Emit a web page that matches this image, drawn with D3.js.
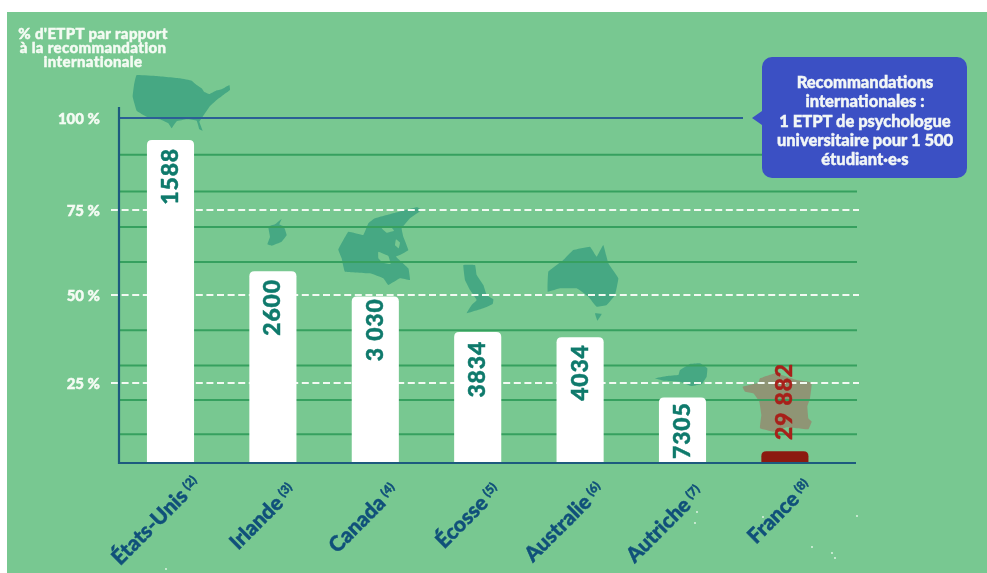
<!DOCTYPE html>
<html lang="fr"><head><meta charset="utf-8">
<script src="https://cdn.jsdelivr.net/npm/d3@7/dist/d3.min.js"></script>
<style>
html,body{margin:0;padding:0;background:#fff}
svg{display:block;filter:blur(.35px)}
text{font-family:Lato,"Open Sans",sans-serif;font-weight:900}
</style></head><body><div id="chart"></div>
<script>
// ---- data ----
const countries = ["États-Unis","Irlande","Canada","Écosse","Australie","Autriche","France"];
const notes = ["(2)","(3)","(4)","(5)","(6)","(7)","(8)"];
const percents = [94,57,49.6,39.5,38,20.5,3.7];
const valueLabels = ["1588","2600","3 030","3834","4034","7305","29 882"];
const dashedLevels = [25,50,75];
const gridLevels = [9,19.7,30,40,59.7,70,80,90];
const yTickLabels = ["25 %","50 %","75 %","100 %"];
const yTickValues = [25,50,75,100];
const titleLines = ["% d'ETPT par rapport","à la recommandation","internationale"];
const calloutLines = ["Recommandations","internationales :","1 ETPT de psychologue","universitaire pour 1 500","étudiant·e·s"];

// ---- decorative map silhouettes: offset plus outline points at 3x ----
const land="#46a883", ground="#78c891";
const maps = [
 {c:land,ox:0,oy:0,p:"410,225 470,228 540,235 575,242 590,255 605,265 612,275 628,282 648,272 665,268 688,255 690,270 670,285 650,300 630,318 615,340 604,356 598,365 608,392 598,388 590,362 560,358 530,364 515,385 505,370 480,358 440,350 410,332 398,290 402,255"},
 {c:land,ox:240,oy:205,p:"125,42 118,58 132,65 140,90 125,110 95,122 82,118 90,95 85,65 105,58"},
 {c:land,ox:320,oy:200,p:"55,148 85,95 130,105 145,70 165,55 220,40 290,22 305,30 270,55 245,85 250,110 265,150 240,165 228,170 265,205 270,240 240,235 205,255 190,235 150,220 75,215 65,175"},
 {c:ground,ox:320,oy:200,p:"175,155 205,168 212,192 188,188 175,175"},
 {c:ground,ox:320,oy:200,p:"185,85 210,78 222,92 200,98"},
 {c:ground,ox:320,oy:200,p:"228,118 240,128 236,145 225,136"},
 {c:land,ox:320,oy:200,p:"430,195 465,195 470,225 490,255 500,285 520,298 518,312 490,325 440,340 455,315 470,300 450,270 435,240"},
 {c:land,ox:320,oy:200,p:"683,275 685,215 730,180 760,150 810,140 830,170 850,135 865,190 895,235 885,285 860,315 830,320 805,290 770,265 720,265"},
 {c:land,ox:320,oy:200,p:"825,340 845,342 832,362"},
 {c:land,ox:600,oy:340,p:"165,115 200,108 235,105 240,90 270,72 300,70 322,85 320,110 305,132 275,138 240,125 190,122"},
 {c:"#8f9575",ox:600,oy:340,p:"428,140 475,128 480,115 525,100 545,105 590,120 635,128 630,175 622,200 625,235 635,245 625,268 590,265 560,262 520,275 480,265 484,225 478,185 460,160 435,155"}
];

// ---- layout ----
const W=987,H=573;
const y=d3.scaleLinear().domain([0,25,50,75,100]).range([463,383,295,210,118]);
const x=d3.scaleBand().domain(countries).range([119.3,836.1]).paddingInner(.54).paddingOuter(.27);
const labelInset=[8,8,2,9,7,5];
const catShift=[2,-5,-5,-5,-4,-7,-1];
const specks=[[166,569],[697,512],[695,523],[763,517],[812,547],[832,553],[835,558],[857,516]];
const svg=d3.select("#chart").append("svg").attr("width",W).attr("height",H);
svg.append("rect").attr("x",7).attr("y",12).attr("width",W-7).attr("height",H-12).attr("fill",ground);
svg.append("g").selectAll("circle").data(specks).join("circle")
  .attr("cx",d=>d[0]).attr("cy",d=>d[1]).attr("r",.9).attr("fill","#e8f7ea");

// maps
const outline=d3.line().curve(d3.curveCardinalClosed.tension(.8));
svg.append("g").selectAll("path").data(maps).join("path")
  .attr("d",d=>outline(d.p.split(" ").map(s=>s.split(",").map(Number)))).attr("fill",d=>d.c)
  .attr("transform",d=>`translate(${d.ox},${d.oy}) scale(${1/3})`);

// grid
svg.append("g").selectAll("line").data(gridLevels).join("line")
  .attr("x1",119).attr("x2",857).attr("y1",y).attr("y2",y)
  .attr("stroke","#36a05f").attr("stroke-width",2);
svg.append("g").selectAll("line").data(dashedLevels).join("line")
  .attr("x1",111).attr("x2",859).attr("y1",y).attr("y2",y)
  .attr("stroke","#f2faf2").attr("stroke-width",2).attr("stroke-dasharray","7 3.6");
svg.append("line").attr("x1",119).attr("x2",743).attr("y1",y(100)).attr("y2",y(100))
  .attr("stroke","#2b5f95").attr("stroke-width",2);

// bars (rounded top)
const barPath=(i,r=5)=>{const x0=x(countries[i]),x1=x0+x.bandwidth(),t=y(percents[i]),b=y(0);
  const p=d3.path();p.moveTo(x0,b);p.lineTo(x0,t+r);p.quadraticCurveTo(x0,t,x0+r,t);
  p.lineTo(x1-r,t);p.quadraticCurveTo(x1,t,x1,t+r);p.lineTo(x1,b);p.closePath();return p.toString();};
svg.append("g").selectAll("path").data(countries).join("path")
  .attr("d",(d,i)=>barPath(i)).attr("fill",(d,i)=>i===6?"#8c1a10":"#fff");

// axes
const axis=svg.append("g").attr("fill","none").attr("stroke","#1d5a7e").attr("stroke-width",2.2);
axis.append("line").attr("x1",119).attr("x2",119).attr("y1",107).attr("y2",y(0)+1);
axis.append("line").attr("x1",118).attr("x2",856).attr("y1",y(0)).attr("y2",y(0));

// y tick labels
svg.append("g").selectAll("text").data(yTickValues).join("text")
  .attr("x",100).attr("y",d=>y(d)+5.5).attr("text-anchor","end")
  .attr("fill","#f4fbf3").attr("font-size",15).text((d,i)=>yTickLabels[i]);

// title
svg.append("g").selectAll("text").data(titleLines).join("text")
  .attr("x",93).attr("y",(d,i)=>38.5+i*14.3).attr("text-anchor","middle")
  .attr("fill","#f4fbf3").attr("font-size",15).attr("letter-spacing",.35).text(d=>d);

// value labels
svg.append("g").selectAll("text").data(valueLabels).join("text")
  .attr("transform",(d,i)=>{
    const cx=x(countries[i])+x.bandwidth()/2+7.5;
    const top=i===6?363:y(percents[i])+labelInset[i];
    return `translate(${cx},${top}) rotate(-90)`;})
  .attr("text-anchor","end").attr("font-size",23).attr("letter-spacing",.8)
  .attr("fill",(d,i)=>i===6?"#a8201a":"#0f7a6c").text(d=>d);

// category labels
const cat=svg.append("g").selectAll("text").data(countries).join("text")
  .attr("transform",(d,i)=>`translate(${x(d)+x.bandwidth()/2+29+catShift[i]},${487-catShift[i]}) rotate(-45)`)
  .attr("text-anchor","end").attr("fill","#10507a").attr("font-size",21);
cat.append("tspan").text(d=>d);
cat.append("tspan").attr("font-size",12).attr("dx",4).attr("dy",-6).text((d,i)=>notes[i]);

// callout
const box=svg.append("g");
box.append("path").attr("d","M772,57H957a10,10 0 0 1 10,10V168a10,10 0 0 1 -10,10H772a10,10 0 0 1 -10,-10V125L752,118L762,111V67a10,10 0 0 1 10,-10Z").attr("fill","#3b50c4");
box.selectAll("text").data(calloutLines).join("text")
  .attr("x",865).attr("y",(d,i)=>88+i*19.3).attr("text-anchor","middle")
  .attr("fill","#f2f6f6").attr("font-size",16.5).text(d=>d);

// heavier glyphs, as in the source lettering
svg.selectAll("text").each(function(){const s=d3.select(this);s.attr("stroke",s.attr("fill")).attr("stroke-width",.45);});
</script></body></html>
